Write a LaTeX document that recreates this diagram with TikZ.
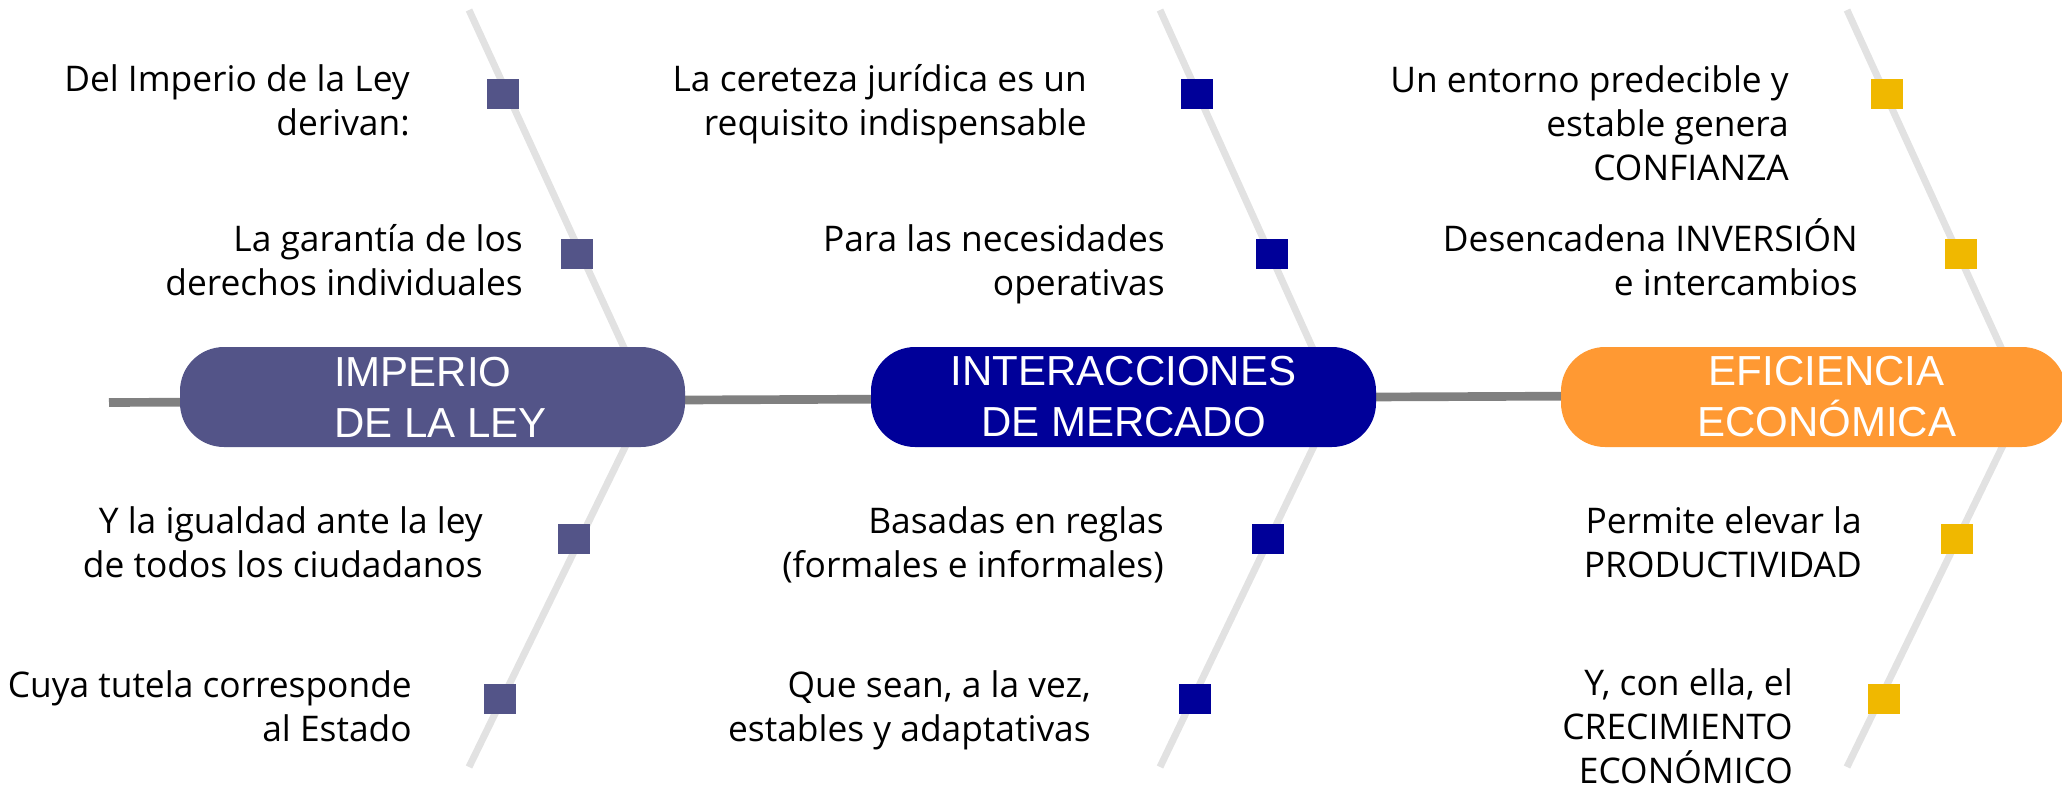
\documentclass[tikz,border=0pt]{standalone}
\usepackage{fontspec}
\setmainfont{Open Sans}
\newfontfamily\pillfont{Liberation Sans}
\definecolor{cA}{RGB}{83,84,136}
\definecolor{cB}{RGB}{0,0,153}
\definecolor{cC}{RGB}{255,153,51}
\definecolor{gold}{RGB}{240,184,0}
\definecolor{boneg}{RGB}{226,226,226}
\definecolor{spineg}{RGB}{128,128,128}
\begin{document}
\begin{tikzpicture}[x=0.75pt,y=-0.75pt,
  bone/.style={draw=boneg, line width=5.25pt},
  spine/.style={draw=spineg, line width=6.5pt},
  pill/.style={rounded corners=33pt, minimum width=378.75pt, minimum height=75pt,
    inner sep=0pt, text=white, font=\pillfont\fontsize{31.5pt}{38.25pt}\selectfont},
  sq/.style={minimum width=24pt, minimum height=22.5pt, inner sep=0pt},
  txt/.style={anchor=base east, align=right, inner sep=0pt,
    font=\fontsize{26.5pt}{33pt}\selectfont},
]
\useasboundingbox (0,0) rectangle (2062,789);
% bones
\coordinate (b1t) at (469,10);  \coordinate (b1j) at (648,400);  \coordinate (b1b) at (469,767);
\coordinate (b2t) at (1160,10); \coordinate (b2j) at (1336,400); \coordinate (b2b) at (1160,767);
\coordinate (b3t) at (1847,10); \coordinate (b3j) at (2025,400); \coordinate (b3b) at (1847,767);
\draw[bone] (b1t) -- (b1j) -- (b1b);
\draw[bone] (b2t) -- (b2j) -- (b2b);
\draw[bone] (b3t) -- (b3j) -- (b3b);
% spine
\coordinate (s0) at (109,402.5);
\coordinate (s1) at (1600,396);
\draw[spine] (s0) -- (s1);
% pills
\node[pill, fill=cA, align=left] (p1) at (432.5,397) {\hspace*{12pt}IMPERIO\\\hspace*{12pt}DE LA LEY};
\node[pill, fill=cB, align=center] (p2) at (1123.5,397) {INTERACCIONES\\DE MERCADO};
\node[pill, fill=cC, align=center] (p3) at (1813.5,397) {\hspace*{19.5pt}EFICIENCIA\\\hspace*{19.5pt}ECONÓMICA};
% squares
\node[sq, fill=cA] (q11) at (503,94) {};
\node[sq, fill=cA] (q12) at (577,254) {};
\node[sq, fill=cA] (q13) at (574,539) {};
\node[sq, fill=cA] (q14) at (500,699) {};
\node[sq, fill=cB] (q21) at (1197,94) {};
\node[sq, fill=cB] (q22) at (1272,254) {};
\node[sq, fill=cB] (q23) at (1268,539) {};
\node[sq, fill=cB] (q24) at (1195,699) {};
\node[sq, fill=gold] (q31) at (1887,94) {};
\node[sq, fill=gold] (q32) at (1961,254) {};
\node[sq, fill=gold] (q33) at (1957,539) {};
\node[sq, fill=gold] (q34) at (1884,699) {};
% texts (anchored at the baseline of their last line)
\node[txt] (t11) at (410,135) {Del Imperio de la Ley\\derivan:};
\node[txt] (t12) at (523,295) {La garantía de los\\derechos individuales};
\node[txt] (t13) at (483,577) {Y la igualdad ante la ley\\de todos los ciudadanos};
\node[txt] (t14) at (412,741) {Cuya tutela corresponde\\al Estado};
\node[txt] (t21) at (1087,135) {La cereteza jurídica es un\\requisito indispensable};
\node[txt] (t22) at (1165,295) {Para las necesidades\\operativas};
\node[txt] (t23) at (1164,577) {Basadas en reglas\\(formales e informales)};
\node[txt] (t24) at (1091,741) {Que sean, a la vez,\\estables y adaptativas};
\node[txt] (t31) at (1789,180) {Un entorno predecible y\\estable genera\\CONFIANZA};
\node[txt] (t32) at (1858,295) {Desencadena INVERSIÓN\\e intercambios};
\node[txt] (t33) at (1862,577) {Permite elevar la\\PRODUCTIVIDAD};
\node[txt] (t34) at (1793,783) {Y, con ella, el\\CRECIMIENTO\\ECONÓMICO};
\end{tikzpicture}
\end{document}
